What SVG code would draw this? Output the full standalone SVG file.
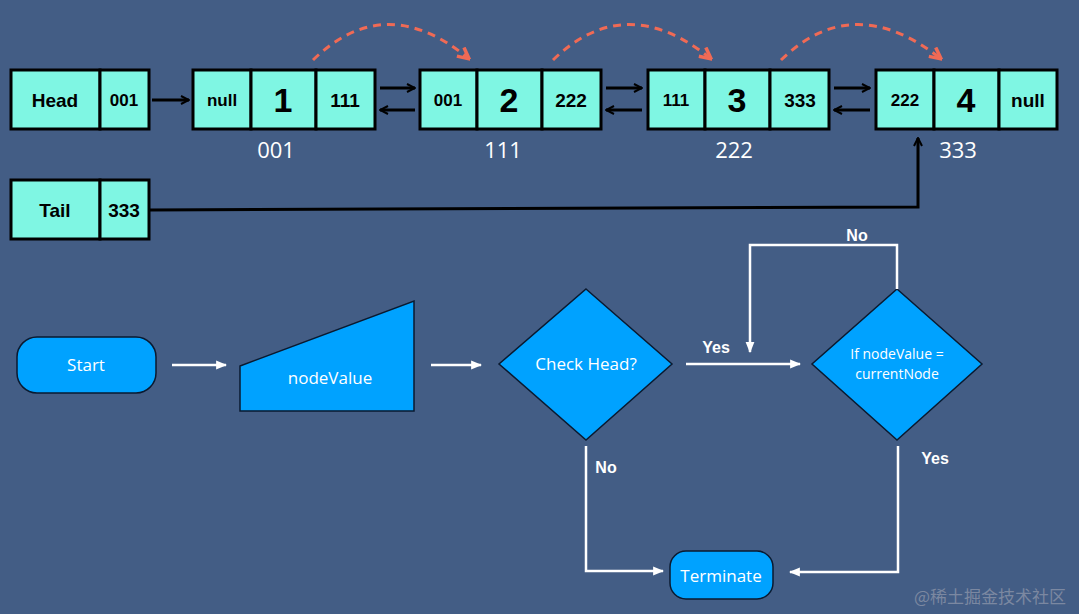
<svg xmlns="http://www.w3.org/2000/svg" width="1079" height="614" viewBox="0 0 1079 614">
<defs>
<marker id="ab" viewBox="0 0 10 10" refX="9" refY="5" markerWidth="10" markerHeight="10" markerUnits="userSpaceOnUse" orient="auto"><path d="M1,1 L9,5 L1,9" fill="none" stroke="#000" stroke-width="2"/></marker>
<marker id="aw" viewBox="0 0 10 10" refX="9" refY="5" markerWidth="11" markerHeight="11" markerUnits="userSpaceOnUse" orient="auto"><path d="M0,1 L10,5 L0,9 Z" fill="#fff"/></marker>
<marker id="ar" viewBox="0 0 10 10" refX="8" refY="5" markerWidth="14" markerHeight="14" markerUnits="userSpaceOnUse" orient="auto"><path d="M1,1 L9,5 L1,9" fill="none" stroke="#f06a55" stroke-width="2.5"/></marker>
<style>
.c{fill:#7ff6e3;stroke:#000;stroke-width:3}
.t{font-family:"Liberation Sans",Arial,sans-serif;font-weight:bold;fill:#000;text-anchor:middle}
.s{font-size:17px}.b{font-size:34px}.m{font-size:19px}
.lab{font-family:"Open Sans","Liberation Sans",sans-serif;font-size:22px;fill:#fff;text-anchor:middle}
.bl{stroke:#000;stroke-width:3;fill:none}
.wl{stroke:#fff;stroke-width:2.5;fill:none}
.f{fill:#00a2ff;stroke:#0a1a30;stroke-width:1.5}
.ft{font-family:"Open Sans","Liberation Sans",sans-serif;font-size:17px;fill:#fff;text-anchor:middle}
.yl{font-family:"Liberation Sans",sans-serif;font-weight:bold;font-size:16px;fill:#fff;text-anchor:middle}
</style>
</defs>
<rect width="1079" height="614" fill="#435d85"/>
<g id="head"><rect class="c" x="11" y="70" width="89" height="59"/><rect class="c" x="100" y="70" width="49" height="59"/><text class="t m" x="55" y="107">Head</text><text class="t s" x="124" y="106">001</text></g>
<g id="tail"><rect class="c" x="11" y="180" width="89" height="59"/><rect class="c" x="100" y="180" width="49" height="59"/><text class="t m" x="55" y="217">Tail</text><text class="t m" x="124" y="217">333</text></g>
<g id="node1"><rect class="c" x="193" y="70" width="58" height="59"/><rect class="c" x="251" y="70" width="65" height="59"/><rect class="c" x="316" y="70" width="59" height="59"/><text class="t s" x="222" y="106">null</text><text class="t b" x="283" y="112">1</text><text class="t m" x="345" y="107">111</text><text class="lab" x="276" y="158">001</text></g>
<g id="node2"><rect class="c" x="420" y="70" width="57" height="59"/><rect class="c" x="477" y="70" width="65" height="59"/><rect class="c" x="542" y="70" width="59" height="59"/><text class="t s" x="448" y="106">001</text><text class="t b" x="509" y="112">2</text><text class="t m" x="571" y="107">222</text><text class="lab" x="503" y="158">111</text></g>
<g id="node3"><rect class="c" x="648" y="70" width="57" height="59"/><rect class="c" x="705" y="70" width="65" height="59"/><rect class="c" x="770" y="70" width="59" height="59"/><text class="t s" x="676" y="106">111</text><text class="t b" x="737" y="112">3</text><text class="t m" x="800" y="107">333</text><text class="lab" x="734" y="158">222</text></g>
<g id="node4"><rect class="c" x="876" y="70" width="58" height="59"/><rect class="c" x="934" y="70" width="65" height="59"/><rect class="c" x="999" y="70" width="58" height="59"/><text class="t s" x="905" y="106">222</text><text class="t b" x="966" y="112">4</text><text class="t m" x="1028" y="107">null</text><text class="lab" x="958" y="158">333</text></g>
<g id="start"><rect class="f" x="17" y="337" width="139" height="56" rx="20"/><text class="ft" x="86" y="371">Start</text></g>
<g id="input"><polygon class="f" points="240,366 414,301 414,411 240,411"/><text class="ft" x="330" y="384">nodeValue</text></g>
<g id="check"><polygon class="f" points="586,289 672,364 586,440 499,364"/><text class="ft" x="586" y="370">Check Head?</text></g>
<g id="cond"><polygon class="f" points="897,289 982,364 897,440 812,364"/><text class="ft" x="897" y="359" style="font-size:14px">If nodeValue =</text><text class="ft" x="897" y="379" style="font-size:14px">currentNode</text></g>
<g id="term"><rect class="f" x="670" y="551" width="103" height="48" rx="16"/><text class="ft" x="721" y="582">Terminate</text></g>
<g id="connectors">
<path class="bl" d="M152,100 H189" marker-end="url(#ab)"/>
<path class="bl" d="M380,88 H415" marker-end="url(#ab)"/><path class="bl" d="M415,110 H380" marker-end="url(#ab)"/>
<path class="bl" d="M606,88 H642" marker-end="url(#ab)"/><path class="bl" d="M642,110 H606" marker-end="url(#ab)"/>
<path class="bl" d="M834,88 H870" marker-end="url(#ab)"/><path class="bl" d="M870,110 H834" marker-end="url(#ab)"/>
<path class="bl" d="M150,210 L918,207 V138" marker-end="url(#ab)"/>
<g fill="none" stroke="#f06a55" stroke-width="3" stroke-dasharray="8,6">
<path d="M313,60 Q385,-10 468,58" marker-end="url(#ar)"/>
<path d="M553,60 Q625,-10 710,58" marker-end="url(#ar)"/>
<path d="M781,60 Q853,-10 940,58" marker-end="url(#ar)"/>
</g>
<path class="wl" d="M172,365 H226" marker-end="url(#aw)"/>
<path class="wl" d="M431,365 H481" marker-end="url(#aw)"/>
<path class="wl" d="M686,364 H800" marker-end="url(#aw)"/>
<path class="wl" d="M897,289 V245 H750 V352" marker-end="url(#aw)"/>
<path class="wl" d="M586,446 V571 H663" marker-end="url(#aw)"/>
<path class="wl" d="M898,446 V572 H790" marker-end="url(#aw)"/>
<text class="yl" x="716" y="353">Yes</text>
<text class="yl" x="857" y="241">No</text>
<text class="yl" x="606" y="473">No</text>
<text class="yl" x="935" y="464">Yes</text>
</g>
<text x="990" y="603" font-family="'Noto Sans CJK SC',sans-serif" font-size="17" fill="#8a93a8" text-anchor="middle" opacity="0.8">@稀土掘金技术社区</text>
</svg>
